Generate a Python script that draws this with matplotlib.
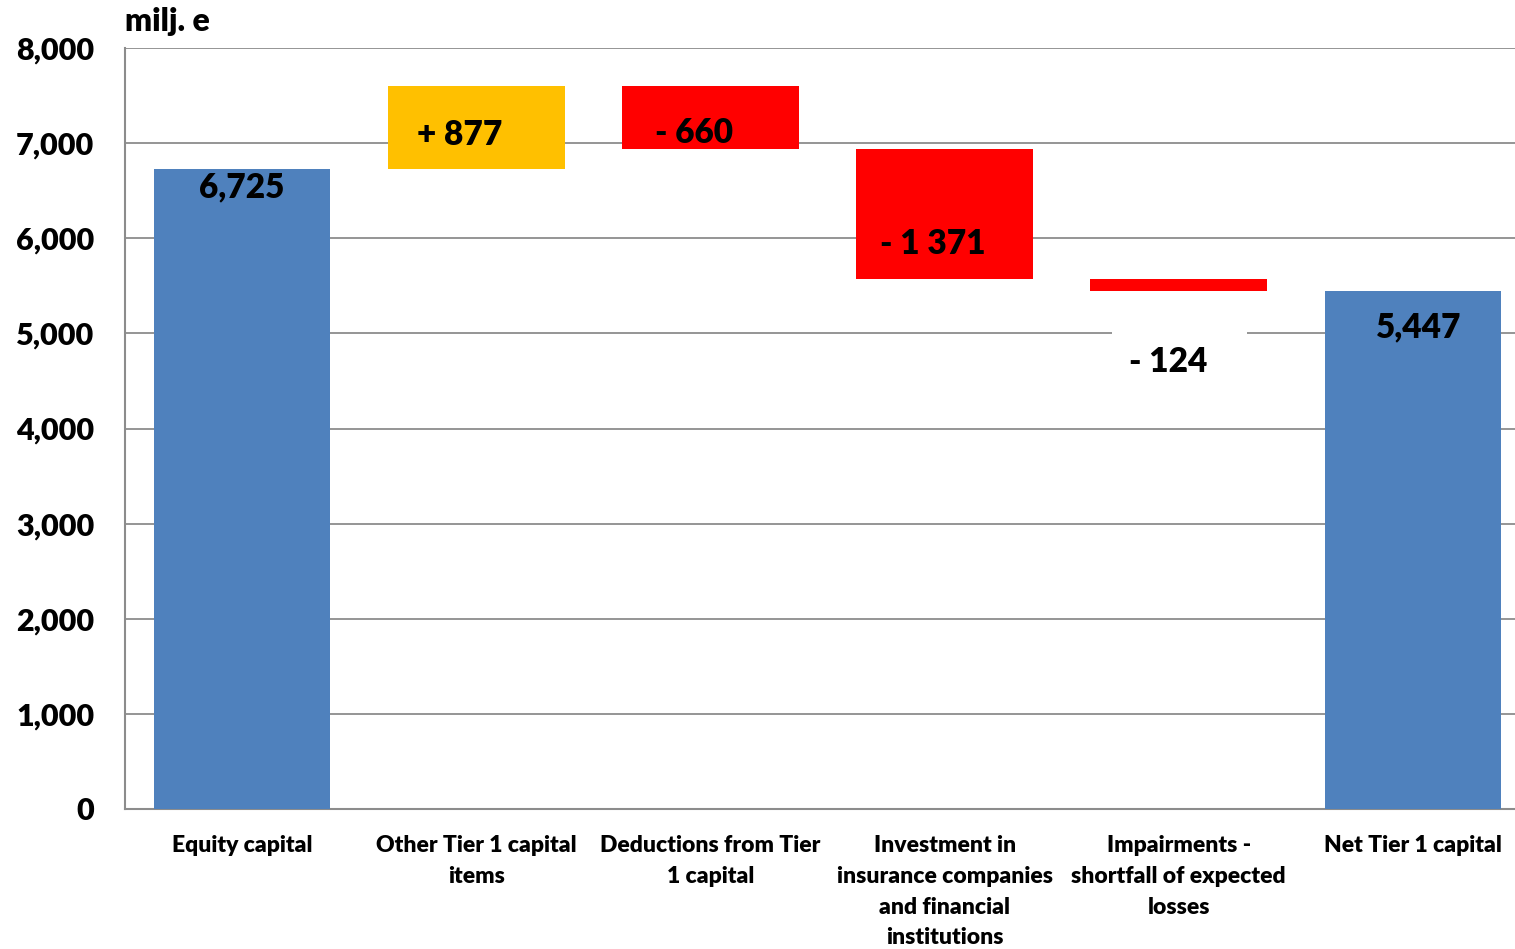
import matplotlib
matplotlib.use("Agg")
import matplotlib.pyplot as plt
from matplotlib.patches import Rectangle

plt.rcParams['font.family'] = ['Lato', 'DejaVu Sans']
W = 'heavy'

categories = ["Equity capital", "Other Tier 1 capital\nitems", "Deductions from Tier\n1 capital",
              "Investment in\ninsurance companies\nand financial\ninstitutions",
              "Impairments -\nshortfall of expected\nlosses", "Net Tier 1 capital"]
start_value = 6725
changes = [877, -660, -1371, -124]
end_value = 5447
labels = ["6,725", "+ 877", "- 660", "- 1 371", "- 124", "5,447"]
label_y = [6530, 7087, 7108, 5941, 4700, 5068]
label_x_off = [0, -0.07, -0.07, -0.05, -0.046, 0.025]

fig = plt.figure(figsize=(15.15, 9.49), dpi=100)
ax = fig.add_axes([125/1515, 140/949, 1405/1515, 761/949])

blue, yellow, red = "#4F81BD", "#FFC000", "#FF0000"
x = list(range(6))
w = 0.755
ax.bar(0, start_value, width=w, color=blue, zorder=3)
level = start_value
for i, c in enumerate(changes, start=1):
    bottom = level if c > 0 else level + c
    ax.bar(i, abs(c), bottom=bottom, width=w, color=yellow if c > 0 else red, zorder=3)
    level += c
ax.bar(5, end_value, width=w, color=blue, zorder=3)

# white background box behind the "- 124" label
ax.add_patch(Rectangle((3.715, 4400), 0.576, 650, facecolor='white', edgecolor='none', zorder=4))

for i, (lab, ly) in enumerate(zip(labels, label_y)):
    ax.text(i + label_x_off[i], ly, lab, ha='center', va='center', fontsize=24,
            fontweight=W, zorder=5)

ax.set_xlim(-0.5, 5.5)
ax.set_ylim(0, 8000)
ax.set_yticks(range(0, 8001, 1000))
ax.set_yticklabels([f"{v:,}" for v in range(0, 8001, 1000)], fontsize=22, fontweight=W)
ax.set_xticks(x)
ax.set_xticklabels(categories, fontsize=16.5, fontweight=W, linespacing=1.57, va='top')
ax.tick_params(axis='both', length=0)
ax.tick_params(axis='y', pad=22)
ax.tick_params(axis='x', pad=19)
ax.yaxis.grid(True, color='#8C8C8C', linewidth=1.3, zorder=0)
ax.set_axisbelow(True)
for s in ['top', 'right']:
    ax.spines[s].set_visible(False)
for s in ['left', 'bottom']:
    ax.spines[s].set_color('#8C8C8C')
    ax.spines[s].set_linewidth(1.5)

fig.text(125/1515, 1 - 22/949, "milj. e", fontsize=23, fontweight=W, va='center', ha='left')

fig.savefig("out.png", dpi=100)
